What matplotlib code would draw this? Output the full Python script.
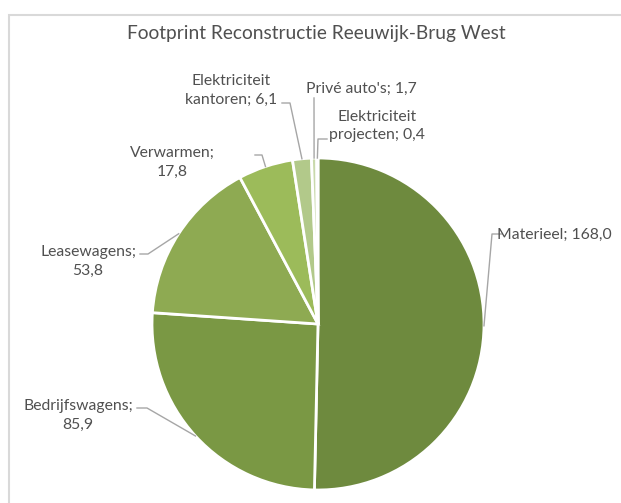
import matplotlib
matplotlib.use("Agg")
import matplotlib.pyplot as plt
import numpy as np
from matplotlib.patches import Rectangle

# data
labels = ["Materieel", "Bedrijfswagens", "Leasewagens", "Verwarmen",
          "Elektriciteit kantoren", "Privé auto's", "Elektriciteit projecten"]
values = [168.0, 85.9, 53.8, 17.8, 6.1, 1.7, 0.4]
label_texts = ["Materieel; 168,0", "Bedrijfswagens;\n85,9", "Leasewagens;\n53,8",
               "Verwarmen;\n17,8", "Elektriciteit\nkantoren; 6,1",
               "Privé auto's; 1,7", "Elektriciteit\nprojecten; 0,4"]
colors = ["#6e8a3e", "#7a9844", "#8eaa52", "#9cbb5a", "#b2c98a", "#c9d9ab", "#d6e3bd"]

W, H = 621, 503
CX, CY, R = 318, 324, 166


def px(x, y):
    # pixel (from top-left) -> data coords
    return (x - CX) / R, (CY - y) / R


# label layout: text pos (px), ha, elbow start/end (px)
layout = {
    "Materieel": ((497, 235), "left", [(502, 234), (492, 234)]),
    "Bedrijfswagens": ((78, 415), "center", [(137, 408), (147, 408)]),
    "Leasewagens": ((88, 261), "center", [(140, 254), (148, 254)]),
    "Verwarmen": ((172, 162), "center", [(255, 155), (262, 155)]),
    "Elektriciteit kantoren": ((231, 90), "center", [(282, 103), (290, 103)]),
    "Privé auto's": ((361, 89), "center", [(314, 98)]),
    "Elektriciteit projecten": ((377, 126), "center", [(327, 139), (318, 139)]),
}

plt.rcParams['font.family'] = ['Lato', 'DejaVu Sans']
fig = plt.figure(figsize=(W / 100, H / 100), dpi=100)
ax = fig.add_axes([0, 0, 1, 1])

wedges, _ = ax.pie(values, colors=colors, startangle=90, counterclock=False,
                   radius=1, wedgeprops=dict(edgecolor="white", linewidth=2))
ax.set_aspect("auto")
ax.set_xlim((0 - CX) / R, (W - CX) / R)
ax.set_ylim((CY - H) / R, CY / R)
ax.axis("off")

for w, lab, txt in zip(wedges, labels, label_texts):
    mid = np.deg2rad((w.theta1 + w.theta2) / 2)
    ax_pt = (np.cos(mid), np.sin(mid))
    (tx, ty), ha, elbow = layout[lab]
    pts = [px(*p) for p in elbow] + [ax_pt]
    ax.plot([p[0] for p in pts], [p[1] for p in pts], color="#a6a6a6", lw=1)
    ax.text(*px(tx, ty), txt, ha=ha, va="center", color="#505050",
            fontsize=11.3, linespacing=1.45)

ax.text(*px(316, 33), "Footprint Reconstructie Reeuwijk-Brug West", ha="center",
        va="center", color="#505050", fontsize=13.8)

fig.patches.append(Rectangle((8.5 / W, -0.1), 1.2, 1 - 14.5 / H + 0.1,
                             transform=fig.transFigure, fill=False,
                             edgecolor="#d9d9d9", lw=1.5))

fig.savefig("out.png", dpi=100)
